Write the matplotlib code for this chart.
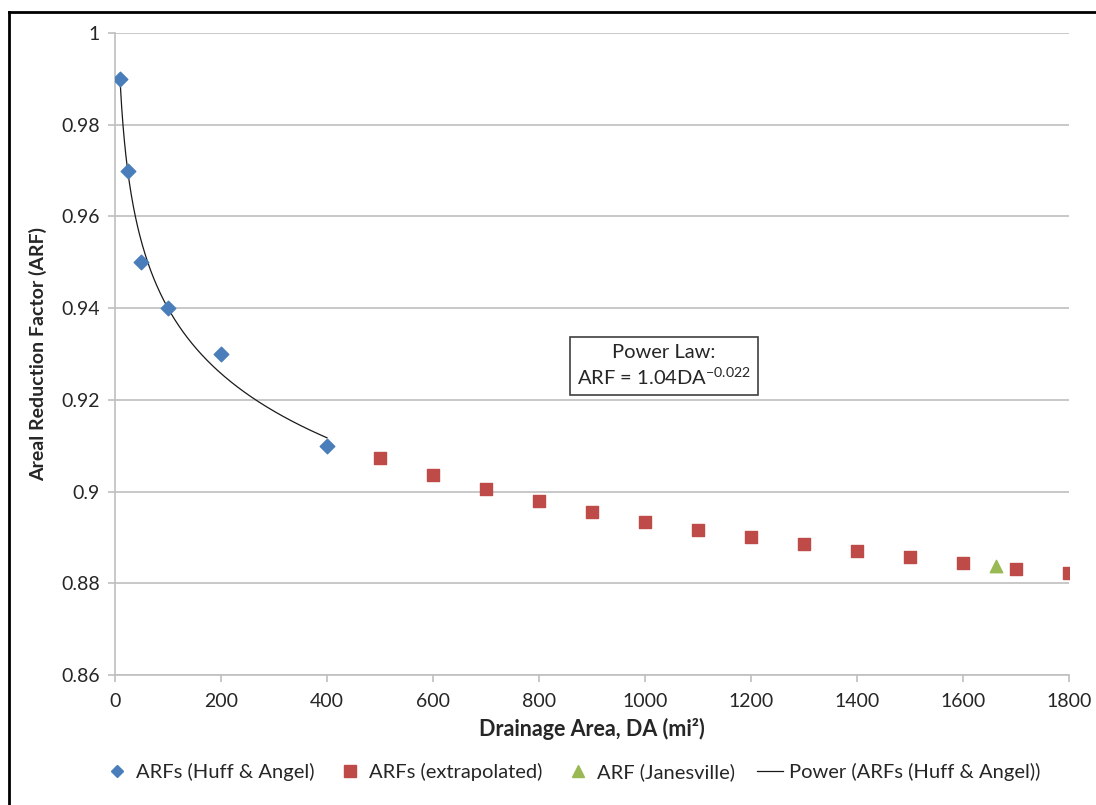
import matplotlib

matplotlib.use("Agg")
import matplotlib.pyplot as plt
import numpy as np
from matplotlib.lines import Line2D

plt.rcParams["font.family"] = ["Lato", "DejaVu Sans"]
plt.rcParams["mathtext.fontset"] = "custom"
plt.rcParams["mathtext.rm"] = "Lato"
plt.rcParams["mathtext.it"] = "Lato:italic"
plt.rcParams["mathtext.bf"] = "Lato:bold"

# datos
huff_da = [10, 25, 50, 100, 200, 400]
huff_arf = [0.99, 0.97, 0.95, 0.94, 0.93, 0.91]

extrap_da = [500, 600, 700, 800, 900, 1000, 1100, 1200, 1300, 1400, 1500, 1600, 1700, 1800]
extrap_arf = [0.9073, 0.9036, 0.9005, 0.8979, 0.8955, 0.8934, 0.8916,
              0.8900, 0.8885, 0.8871, 0.8857, 0.8844, 0.8832, 0.8822]

janes_da = [1663]
janes_arf = [0.8837]

x_ticks = [0, 200, 400, 600, 800, 1000, 1200, 1400, 1600, 1800]
y_ticks = [0.86, 0.88, 0.9, 0.92, 0.94, 0.96, 0.98, 1.0]
y_labels = ["0.86", "0.88", "0.9", "0.92", "0.94", "0.96", "0.98", "1"]

AZUL = "#4a7ebb"
ROJO = "#be4b48"
VERDE = "#98b954"
GRIS = "#bfbfbf"
TEXTO = "#262626"

fig = plt.figure(figsize=(10.96, 8.05), dpi=100)
ax = fig.add_axes([0.1049, 0.1615, 0.8705, 0.7975])

# linea de tendencia potencial (ajuste log-log de Huff & Angel)
b, log_a = np.polyfit(np.log(huff_da), np.log(huff_arf), 1)
x_fit = np.linspace(min(huff_da), max(huff_da), 300)
ax.plot(x_fit, np.exp(log_a) * x_fit ** b, color="#1a1a1a", linewidth=0.9, zorder=2)

ax.scatter(huff_da, huff_arf, marker="D", s=55, color=AZUL, zorder=3)
ax.scatter(extrap_da, extrap_arf, marker="s", s=85, color=ROJO, zorder=3)
ax.scatter(janes_da, janes_arf, marker="^", s=80, color=VERDE, zorder=3)

ax.set_xlim(0, 1800)
ax.set_ylim(0.86, 1.0)
ax.set_xticks(x_ticks)
ax.set_yticks(y_ticks)
ax.set_yticklabels(y_labels)
ax.tick_params(axis="both", labelsize=14, colors=GRIS, labelcolor=TEXTO,
               length=5, width=1.2, direction="out")
ax.tick_params(axis="x", pad=8)
ax.tick_params(axis="y", pad=6)
ax.grid(True, axis="y", color=GRIS, linewidth=1.2)
ax.set_axisbelow(True)
for lado in ("top", "right"):
    ax.spines[lado].set_visible(False)
for lado in ("left", "bottom"):
    ax.spines[lado].set_color(GRIS)
    ax.spines[lado].set_linewidth(1.2)

ax.set_xlabel("Drainage Area, DA (mi²)", fontsize=15.5, fontweight="bold",
              color=TEXTO, labelpad=6)
ax.set_ylabel("Areal Reduction Factor (ARF)", fontsize=14, fontweight="bold",
              color=TEXTO, labelpad=10)

ax.text(664 / 1096, 1 - 366 / 805, "Power Law:\nARF = 1.04DA$^{-0.022}$",
        transform=fig.transFigure, ha="center", va="center", fontsize=14.5,
        color=TEXTO, linespacing=1.3,
        bbox=dict(boxstyle="square,pad=0.35", facecolor="white",
                  edgecolor="#404040", linewidth=1.2))

handles = [
    Line2D([], [], marker="D", linestyle="none", color=AZUL, markersize=6),
    Line2D([], [], marker="s", linestyle="none", color=ROJO, markersize=8),
    Line2D([], [], marker="^", linestyle="none", color=VERDE, markersize=8),
    Line2D([], [], color="#1a1a1a", linewidth=0.9),
]
labels = ["ARFs (Huff & Angel)", "ARFs (extrapolated)", "ARF (Janesville)",
          "Power (ARFs (Huff & Angel))"]
fig.legend(handles, labels, loc="center", bbox_to_anchor=(0.522, 0.0405), ncol=4,
           frameon=False, fontsize=14.5, handlelength=1.3, handletextpad=0.3,
           columnspacing=1.1, labelcolor=TEXTO)

# marco del grafico (solo visible arriba e izquierda)
fig.add_artist(Line2D([9 / 1096, 9 / 1096], [0, 1 - 12 / 805],
                      transform=fig.transFigure, color="black", linewidth=2))
fig.add_artist(Line2D([9 / 1096, 1], [1 - 12 / 805, 1 - 12 / 805],
                      transform=fig.transFigure, color="black", linewidth=2))

fig.savefig("out.png", dpi=100, facecolor="white")
